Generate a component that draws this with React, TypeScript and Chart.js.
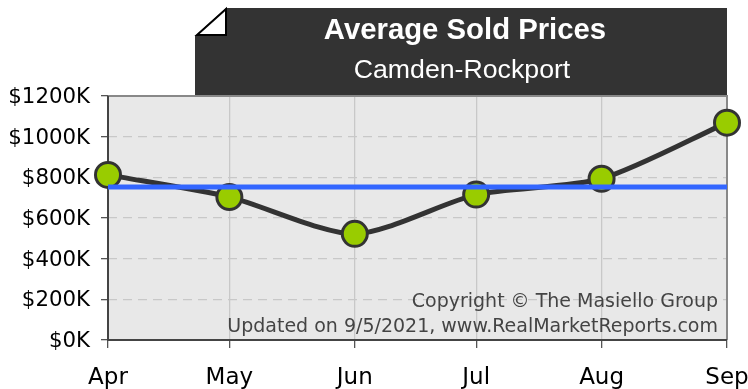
import React, { useEffect, useRef } from "react";
import { Chart, registerables } from "chart.js";

Chart.register(...registerables);

const months = ["Apr", "May", "Jun", "Jul", "Aug", "Sep"];
const daysFromApril = [0, 30, 61, 91, 122, 153];
const averagePrices = [812, 703, 522, 715, 793, 1069];
const overallAverage = [752, 752, 752, 752, 752, 752];
const chartTitle = "Average Sold Prices";
const chartSubtitle = "Camden-Rockport";
const copyrightLines = [
  "Copyright \u00A9 The Masiello Group",
  "Updated on 9/5/2021, www.RealMarketReports.com",
];

const chromePlugin = {
  id: "chrome",
  beforeDraw(chart: any) {
    const { ctx, chartArea: a } = chart;
    // nudge the y tick labels so the digits sit centred on their ticks
    chart.scales.y.getLabelItems().forEach((item: any) => {
      if (!item.nudged) {
        item.options.translation[1] += 1.5;
        item.nudged = true;
      }
    });
    ctx.save();
    ctx.fillStyle = "#e8e8e8";
    ctx.fillRect(a.left, a.top, a.right - a.left, a.bottom - a.top);
    ctx.fillStyle = "#333333";
    ctx.beginPath();
    ctx.moveTo(195, 36);
    ctx.lineTo(226, 8);
    ctx.lineTo(727, 8);
    ctx.lineTo(727, 96);
    ctx.lineTo(195, 96);
    ctx.closePath();
    ctx.fill();
    ctx.fillStyle = "#ffffff";
    ctx.strokeStyle = "#000000";
    ctx.lineWidth = 2;
    ctx.beginPath();
    ctx.moveTo(197, 35);
    ctx.lineTo(226, 9);
    ctx.lineTo(226, 35);
    ctx.closePath();
    ctx.fill();
    ctx.stroke();
    ctx.textAlign = "center";
    ctx.textBaseline = "alphabetic";
    ctx.fillStyle = "#ffffff";
    ctx.font = 'bold 29.3px "Liberation Sans"';
    ctx.fillText(chartTitle, 465, 39);
    ctx.font = '26.7px "Liberation Sans"';
    ctx.fillText(chartSubtitle, 462, 78);
    ctx.restore();
  },
  afterDatasetsDraw(chart: any) {
    const { ctx, chartArea: a } = chart;
    ctx.save();
    ctx.textAlign = "right";
    ctx.textBaseline = "alphabetic";
    ctx.fillStyle = "#444444";
    ctx.font = '19px "DejaVu Sans"';
    ctx.fillText(copyrightLines[0], a.right - 9, 307);
    ctx.fillText(copyrightLines[1], a.right - 9, 332);
    ctx.restore();
  },
  beforeDatasetsDraw(chart: any) {
    const { ctx, chartArea: a } = chart;
    ctx.save();
    ctx.lineWidth = 2;
    ctx.strokeStyle = "#888888";
    ctx.beginPath();
    ctx.moveTo(a.left, a.top);
    ctx.lineTo(a.right, a.top);
    ctx.lineTo(a.right, a.bottom);
    ctx.stroke();
    ctx.strokeStyle = "#444444";
    ctx.beginPath();
    ctx.moveTo(a.left, a.top);
    ctx.lineTo(a.left, a.bottom);
    ctx.lineTo(a.right, a.bottom);
    ctx.stroke();
    ctx.restore();
  },
};

export default function App() {
  const ref = useRef<HTMLCanvasElement>(null);
  useEffect(() => {
    document.body.style.margin = "0";
    const chart = new Chart(ref.current as HTMLCanvasElement, {
      type: "line",
      data: {
        datasets: [
          {
            label: "Overall average",
            data: daysFromApril.map((x, i) => ({ x, y: overallAverage[i] })),
            borderColor: "#3366ff",
            borderWidth: 5,
            pointRadius: 0,
            order: 1,
            clip: false,
          },
          {
            label: "Average sold price",
            data: daysFromApril.map((x, i) => ({ x, y: averagePrices[i] })),
            borderColor: "#333333",
            borderWidth: 5,
            tension: 0.25,
            pointRadius: 12.5,
            pointBackgroundColor: "#99cc00",
            pointBorderColor: "#333333",
            pointBorderWidth: 3,
            order: 2,
            clip: false,
          },
        ],
      },
      plugins: [chromePlugin],
      options: {
        animation: false,
        responsive: false,
        layout: { padding: { left: 0, top: 96, right: 21, bottom: 0 } },
        plugins: { legend: { display: false }, tooltip: { enabled: false }, title: { display: false } },
        scales: {
          x: {
            type: "linear",
            min: daysFromApril[0],
            max: daysFromApril[daysFromApril.length - 1],
            afterBuildTicks(s: any) {
              s.ticks = daysFromApril.map((value) => ({ value }));
            },
            afterFit(s: any) {
              s.height = 49;
              s.paddingLeft = 0;
              s.paddingRight = 0;
            },
            border: { display: false },
            grid: { color: "#c8c8c8", lineWidth: 1.3, tickColor: "#555555", tickWidth: 1.3, tickLength: 8 },
            ticks: {
              autoSkip: false,
              maxRotation: 0,
              minRotation: 0,
              color: "#000000",
              font: { family: '"DejaVu Sans"', size: 23 },
              padding: 16,
              callback: (v: any) => months[daysFromApril.indexOf(v)],
            },
          },
          y: {
            min: 0,
            max: 1200,
            afterFit(s: any) {
              s.width = 108;
            },
            border: { display: false, dash: [9, 6] },
            grid: { color: "#c8c8c8", lineWidth: 1.3, tickColor: "#555555", tickWidth: 1.3, tickLength: 7, tickBorderDash: [] } as any,
            ticks: {
              stepSize: 200,
              color: "#000000",
              font: { family: '"DejaVu Sans"', size: 21.3 },
              padding: 11,
              callback: (v: any) => "$" + v + "K",
            },
          },
        },
      },
    } as any);
    return () => chart.destroy();
  }, []);
  return <canvas ref={ref} width={748} height={389} style={{ display: "block" }} />;
}
